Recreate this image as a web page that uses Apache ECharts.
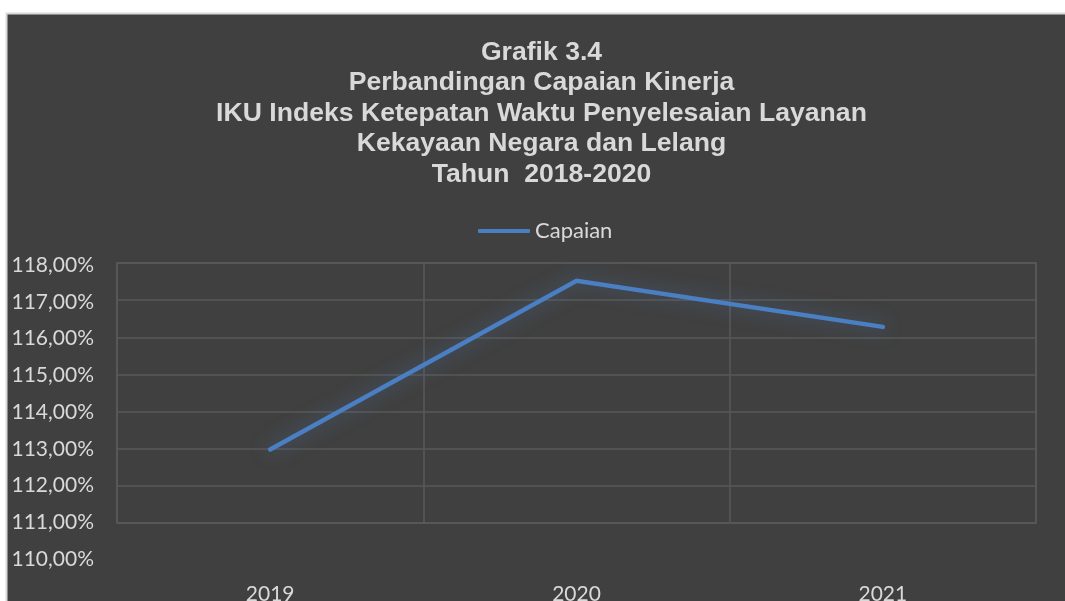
<!DOCTYPE html>
<html>
<head>
<meta charset="utf-8">
<script src="https://cdn.jsdelivr.net/npm/echarts@6/dist/echarts.min.js"></script>
<style>
html,body{margin:0;padding:0;background:#ffffff;}
#chart{position:absolute;left:0;top:0;width:1065px;height:601px;}
</style>
</head>
<body>
<div id="chart"></div>
<script>
var categories = ['2019', '2020', '2021'];
var capaian = [112.98, 117.52, 116.28];
var seriesName = 'Capaian';
var titleLines = ['Grafik 3.4', 'Perbandingan Capaian Kinerja', 'IKU Indeks Ketepatan Waktu Penyelesaian Layanan', 'Kekayaan Negara dan Lelang', 'Tahun  2018-2020'];

var chart = echarts.init(document.getElementById('chart'), null, {renderer: 'canvas'});
var textColor = '#d9d9d9';
var gridColor = '#595959';
var fmt = function (v) { return v.toFixed(2).replace('.', ',') + '%'; };

chart.setOption({
  backgroundColor: 'transparent',
  animation: false,
  graphic: [{
    type: 'rect', z: -10, silent: true,
    shape: {x: 6.5, y: 13.5, width: 1070, height: 600},
    style: {fill: '#404040', stroke: '#d9d9d9', lineWidth: 2}
  }],
  title: {
    text: titleLines.join('\n'),
    left: 536.5, top: 32, textAlign: 'center', padding: 5,
    textStyle: {color: textColor, fontFamily: 'Liberation Sans, Arial, sans-serif', fontWeight: 'bold', fontSize: 26.6, lineHeight: 30.5}
  },
  legend: {
    data: [seriesName], top: 215, left: 473,
    icon: 'roundRect', itemWidth: 52, itemHeight: 4, itemGap: 6,
    textStyle: {color: textColor, fontFamily: 'Lato, Open Sans, sans-serif', fontSize: 22}
  },
  grid: [
    {left: 117, right: 29, top: 265, bottom: 42, containLabel: false, outerBoundsMode: 'none'},
    {left: 117, right: 29, top: 263, bottom: 78, show: true, borderColor: gridColor, borderWidth: 1.5, containLabel: false, outerBoundsMode: 'none'}
  ],
  xAxis: [
    {gridIndex: 0, type: 'category', data: categories, boundaryGap: true,
      axisLine: {show: false}, axisTick: {show: false}, splitLine: {show: false},
      axisLabel: {color: textColor, fontFamily: 'Lato, Open Sans, sans-serif', fontSize: 21, margin: 25}},
    {gridIndex: 1, type: 'category', data: categories, boundaryGap: true,
      axisLine: {show: false}, axisTick: {show: false}, axisLabel: {show: false},
      splitLine: {show: true, lineStyle: {color: gridColor, width: 1.5}}}
  ],
  yAxis: [
    {gridIndex: 0, type: 'value', min: 110, max: 118, interval: 1,
      axisLine: {show: false}, axisTick: {show: false}, splitLine: {show: false},
      axisLabel: {color: textColor, fontFamily: 'Lato, Open Sans, sans-serif', fontSize: 21, margin: 23, formatter: fmt}},
    {gridIndex: 1, type: 'value', min: 111, max: 118, interval: 1,
      axisLine: {show: false}, axisTick: {show: false}, axisLabel: {show: false},
      splitLine: {show: true, lineStyle: {color: gridColor, width: 1.5}}}
  ],
  series: [{
    name: seriesName, type: 'line', xAxisIndex: 1, yAxisIndex: 1,
    data: capaian, symbol: 'none',
    lineStyle: {color: '#4a7fc4', width: 4.5, cap: 'round', join: 'miter',
      shadowBlur: 18, shadowColor: 'rgba(79,129,189,0.55)'},
    itemStyle: {color: '#4a7fc4'}
  }]
});
</script>
</body>
</html>
